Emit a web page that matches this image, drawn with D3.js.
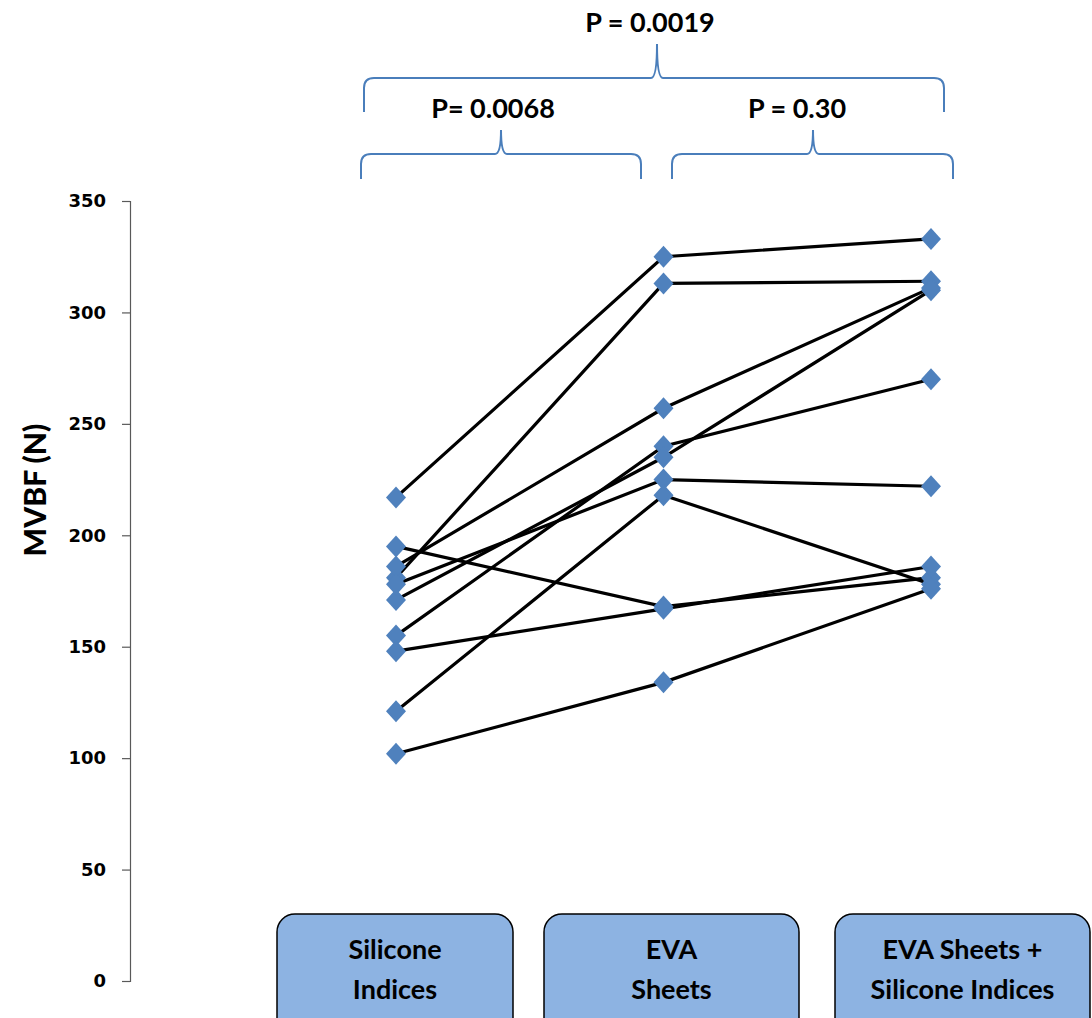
<!DOCTYPE html>
<html>
<head>
  <meta charset="utf-8">
  <style>
    body { margin: 0; background: #fff; }
    svg { display: block; }
    .tick text { font-family: "DejaVu Sans", Verdana, sans-serif; font-weight: bold; font-size: 18px; }
  </style>
</head>
<body>
  <script src="https://cdn.jsdelivr.net/npm/d3@7/dist/d3.min.js"></script>
  <script>
    // categories (x axis) and one series per subject
    var categories = ["Silicone Indices", "EVA Sheets", "EVA Sheets + Silicone Indices"];
    var catLines = [["Silicone", "Indices"], ["EVA", "Sheets"], ["EVA Sheets +", "Silicone Indices"]];
    var silicone = [217, 181, 186, 155, 171, 178, 121, 195, 148, 102];
    var eva      = [325, 313, 257, 240, 235, 225, 218, 168, 167, 134];
    var evaSil   = [333, 314, 311, 270, 310, 222, 178, 181, 186, 176];
    var yTicks = [0, 50, 100, 150, 200, 250, 300, 350];
    var pValues = ["P = 0.0019", "P= 0.0068", "P = 0.30"];

    var W = 1092, H = 1018;
    var svg = d3.select("body").append("svg")
      .attr("width", W).attr("height", H);

    var x = d3.scalePoint().domain(categories).range([396, 931]);
    var y = d3.scaleLinear().domain([0, 350]).range([981, 201]);

    // y axis
    var yAxis = d3.axisLeft(y).tickValues(yTicks).tickSize(8).tickPadding(16);
    var gy = svg.append("g").attr("transform", "translate(130,0)").call(yAxis);
    gy.attr("font-size", null).attr("font-family", null);
    gy.select(".domain").attr("stroke", "#595959").attr("stroke-width", 1.2);
    gy.selectAll(".tick line").attr("stroke", "#595959").attr("stroke-width", 1.2);
    gy.selectAll(".tick text").attr("fill", "#000");

    svg.append("text")
      .attr("transform", "translate(46,490) rotate(-90)")
      .attr("text-anchor", "middle")
      .attr("font-family", "Lato, 'Open Sans', sans-serif")
      .attr("font-weight", "900")
      .attr("font-size", 30)
      .text("MVBF (N)");

    // subject lines
    var subjects = silicone.map(function(d, i) { return [d, eva[i], evaSil[i]]; });
    var line = d3.line()
      .x(function(d, i) { return x(categories[i]); })
      .y(function(d) { return y(d); });

    svg.append("g").selectAll("path")
      .data(subjects).enter().append("path")
      .attr("d", line)
      .attr("fill", "none")
      .attr("stroke", "#000")
      .attr("stroke-width", 3.2);

    // diamond markers
    var pts = [];
    subjects.forEach(function(s) {
      s.forEach(function(v, i) { pts.push({c: categories[i], v: v}); });
    });
    svg.append("g").selectAll("path")
      .data(pts).enter().append("path")
      .attr("d", "M0,-11L10,0L0,11L-10,0Z")
      .attr("transform", function(d) { return "translate(" + x(d.c) + "," + y(d.v) + ")"; })
      .attr("fill", "#4F81BD");

    // category boxes at the bottom
    var boxes = [
      {x0: 277, x1: 513},
      {x0: 544, x1: 799},
      {x0: 835, x1: 1090}
    ];
    var gb = svg.append("g");
    boxes.forEach(function(b, i) {
      gb.append("rect")
        .attr("x", b.x0).attr("y", 914)
        .attr("width", b.x1 - b.x0).attr("height", 130)
        .attr("rx", 18).attr("ry", 18)
        .attr("fill", "#8DB3E2")
        .attr("stroke", "#000").attr("stroke-width", 1.5);
      var cx = (b.x0 + b.x1) / 2;
      catLines[i].forEach(function(t, j) {
        gb.append("text")
          .attr("x", cx).attr("y", 959 + j * 40)
          .attr("text-anchor", "middle")
          .attr("font-family", "Lato, 'Open Sans', sans-serif")
          .attr("font-weight", "bold")
          .attr("font-size", 27)
          .text(t);
      });
    });

    // curly brackets
    function brace(x0, x1, xm, yTop, yEnd, yPeak) {
      var r = 10;
      return "M" + x0 + "," + yEnd +
        "L" + x0 + "," + (yTop + r) +
        "Q" + x0 + "," + yTop + " " + (x0 + r) + "," + yTop +
        "L" + (xm - 6) + "," + yTop +
        "Q" + xm + "," + yTop + " " + xm + "," + yPeak +
        "Q" + xm + "," + yTop + " " + (xm + 6) + "," + yTop +
        "L" + (x1 - r) + "," + yTop +
        "Q" + x1 + "," + yTop + " " + x1 + "," + (yTop + r) +
        "L" + x1 + "," + yEnd;
    }
    var braces = [
      {x0: 364, x1: 944, xm: 657, yTop: 78, yEnd: 112, yPeak: 44, tx: 650, ty: 32},
      {x0: 361, x1: 641, xm: 501, yTop: 154, yEnd: 179, yPeak: 130, tx: 493, ty: 118},
      {x0: 672, x1: 953, xm: 813, yTop: 154, yEnd: 179, yPeak: 130, tx: 797, ty: 118}
    ];
    braces.forEach(function(b, i) {
      svg.append("path")
        .attr("d", brace(b.x0, b.x1, b.xm, b.yTop, b.yEnd, b.yPeak))
        .attr("fill", "none")
        .attr("stroke", "#4A7EBB")
        .attr("stroke-width", 2);
      svg.append("text")
        .attr("x", b.tx).attr("y", b.ty)
        .attr("text-anchor", "middle")
        .attr("font-family", "Lato, 'Open Sans', sans-serif")
        .attr("font-weight", "bold")
        .attr("font-size", 27)
        .text(pValues[i]);
    });
  </script>
</body>
</html>
